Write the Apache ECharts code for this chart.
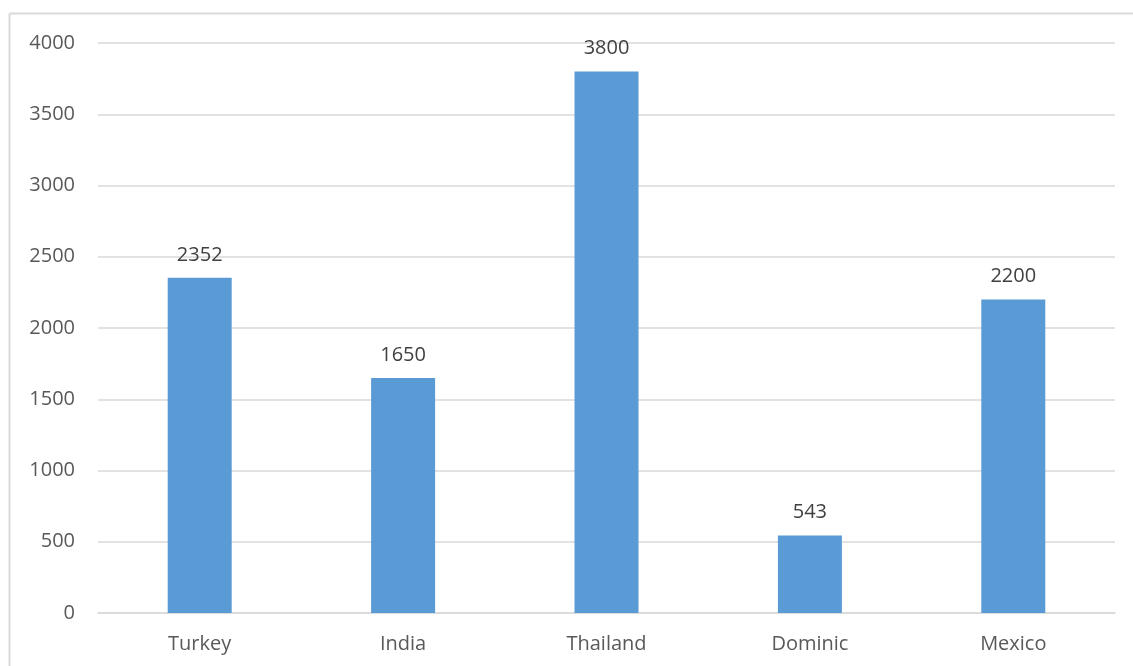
<!DOCTYPE html>
<html>
<head>
<meta charset="utf-8">
<script src="https://cdn.jsdelivr.net/npm/echarts@6/dist/echarts.min.js"></script>
<style>
  html, body { margin: 0; padding: 0; background: #fff; overflow: hidden; }
  #chart { width: 1133px; height: 666px; }
</style>
</head>
<body>
<div id="chart"></div>
<script>
const categories = ['Turkey', 'India', 'Thailand', 'Dominic', 'Mexico'];
const values = [2352, 1650, 3800, 543, 2200];
const yTicks = { min: 0, max: 4000, interval: 500 };

const textColor = '#595959';
const fontFamily = '"Open Sans", "Liberation Sans", sans-serif';
const frameStyle = { stroke: '#d9d9d9', lineWidth: 2 };

const chart = echarts.init(document.getElementById('chart'));
chart.setOption({
  backgroundColor: '#ffffff',
  animation: false,
  graphic: [
    // chart-area frame: left edge
    { type: 'line', shape: { x1: 9.5, y1: 13.5, x2: 9.5, y2: 666 }, style: frameStyle, silent: true },
    // chart-area frame: top edge
    { type: 'line', shape: { x1: 9.5, y1: 13.5, x2: 1133, y2: 13.5 }, style: frameStyle, silent: true }
  ],
  grid: { left: 98, right: 18, top: 43, bottom: 53, containLabel: false },
  xAxis: {
    type: 'category',
    data: categories,
    axisLine: { show: true, lineStyle: { color: '#d9d9d9', width: 1.5 } },
    axisTick: { show: false },
    axisLabel: { color: textColor, fontSize: 20, fontFamily: fontFamily, margin: 21 }
  },
  yAxis: {
    type: 'value',
    min: yTicks.min,
    max: yTicks.max,
    interval: yTicks.interval,
    axisLine: { show: false },
    axisTick: { show: false },
    splitLine: { lineStyle: { color: '#d9d9d9', width: 1.5 } },
    axisLabel: {
      color: textColor, fontSize: 20, fontFamily: fontFamily, margin: 23,
      formatter: v => String(v)
    }
  },
  series: [{
    type: 'bar',
    data: values,
    barWidth: 64,
    itemStyle: { color: '#5b9bd5' },
    label: {
      show: true,
      position: 'top',
      distance: 13,
      color: '#404040',
      fontSize: 20,
      fontFamily: fontFamily
    }
  }]
});
</script>
</body>
</html>
